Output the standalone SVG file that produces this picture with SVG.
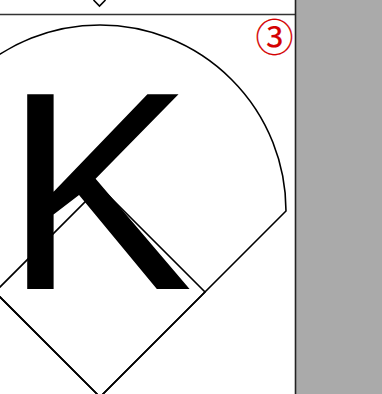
<svg xmlns="http://www.w3.org/2000/svg" width="382" height="394" viewBox="0 0 382 394">
<style>
.ln{fill:none;stroke:#000;stroke-width:1.6}
.sep{stroke:#333;stroke-width:1.6}
</style>
<rect x="0" y="0" width="382" height="394" fill="#fff"/>
<g id="top-diamond"><path class="ln" d="M93.5 0 L99.5 6 L105.5 0"/></g>
<line class="sep" x1="0" y1="14.5" x2="295" y2="14.5"/>
<g id="field">
<path class="ln" d="M-86 211 A186 186 0 0 1 286 211 L100 397 Z"/>
<path class="ln" d="M100 187 L205 292 L100 397 L-5 292 Z"/>
</g>
<g id="letter"><text x="4" y="289" font-family="Liberation Sans, Arial, sans-serif" font-size="283">K</text></g>
<g id="label"><text x="274.5" y="51" text-anchor="middle" font-family="Noto Sans CJK JP, sans-serif" font-size="38" fill="#d40000" stroke="#d40000" stroke-width="0.2">③</text></g>
<rect x="295" y="0" width="87" height="394" fill="#aaaaaa"/>
<line x1="295.5" y1="0" x2="295.5" y2="394" stroke="#222" stroke-width="1.6"/>
</svg>
